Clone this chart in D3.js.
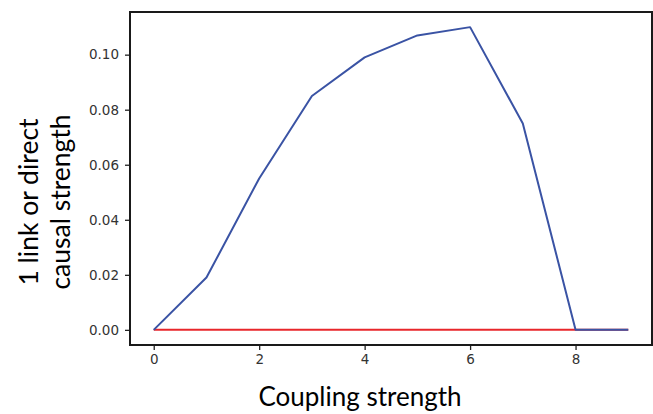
<!DOCTYPE html>
<html>
<head>
<meta charset="utf-8">
<script src="https://cdn.jsdelivr.net/npm/d3@7"></script>
<style>
  html, body { margin: 0; padding: 0; background: #fff; }
  svg { display: block; }
</style>
</head>
<body>
<svg id="chart" width="653" height="414"></svg>
<script>
const couplingStrength = [0, 1, 2, 3, 4, 5, 6, 7, 8, 9];
const oneLinkStrength = [0.000, 0.019, 0.055, 0.085, 0.099, 0.107, 0.110, 0.075, 0.000, 0.000];
const directStrength = [0, 0, 0, 0, 0, 0, 0, 0, 0, 0];
const xTicks = [0, 2, 4, 6, 8];
const yTicks = [0.00, 0.02, 0.04, 0.06, 0.08, 0.10];
const xLabel = "Coupling strength";
const yLabelLines = ["1 link or direct", "causal strength"];

const svg = d3.select("#chart");
const mLeft = 130, mRight = 652, mTop = 12, mBottom = 345;

const x = d3.scaleLinear().domain([-0.45, 9.45]).range([mLeft, mRight]);
const y = d3.scaleLinear().domain([-0.0055, 0.1155]).range([mBottom, mTop]);

const line = d3.line().x((d, i) => x(couplingStrength[i])).y(d => y(d));

svg.append("path").datum(directStrength)
  .attr("d", line).attr("fill", "none")
  .attr("stroke", "#e8262b").attr("stroke-width", 2);
svg.append("path").datum(oneLinkStrength)
  .attr("d", line).attr("fill", "none")
  .attr("stroke", "#3a53a4").attr("stroke-width", 2)
  .attr("stroke-linejoin", "round");

// axes
const xAxis = svg.append("g").attr("transform", `translate(0,${mBottom})`)
  .call(d3.axisBottom(x).tickValues(xTicks).tickFormat(d3.format("d")).tickSize(5).tickPadding(4));
const yAxis = svg.append("g").attr("transform", `translate(${mLeft},0)`)
  .call(d3.axisLeft(y).tickValues(yTicks).tickFormat(d3.format(".2f")).tickSize(5).tickPadding(6));
[xAxis, yAxis].forEach(g => {
  g.select(".domain").remove();
  g.selectAll(".tick line").attr("stroke", "#222").attr("stroke-width", 1.3);
  g.selectAll(".tick text").attr("fill", "#333")
    .style("font-family", "DejaVu Sans, sans-serif").style("font-size", "13.5px");
});

// frame
svg.append("rect").attr("x", mLeft).attr("y", mTop)
  .attr("width", mRight - mLeft).attr("height", mBottom - mTop)
  .attr("fill", "none").attr("stroke", "#1a1a1a").attr("stroke-width", 2);

// labels
svg.append("text").attr("x", 360).attr("y", 406)
  .attr("text-anchor", "middle")
  .style("font-family", "Lato, 'Open Sans', sans-serif").style("font-size", "26px")
  .attr("fill", "#000").text(xLabel);

const yl = svg.append("text")
  .attr("transform", "translate(0,202) rotate(-90)")
  .attr("text-anchor", "middle")
  .style("font-family", "Lato, 'Open Sans', sans-serif").style("font-size", "26.5px")
  .attr("fill", "#000");
yl.append("tspan").attr("x", 0).attr("y", 38).text(yLabelLines[0]);
yl.append("tspan").attr("x", 0).attr("y", 70).text(yLabelLines[1]);
</script>
</body>
</html>
